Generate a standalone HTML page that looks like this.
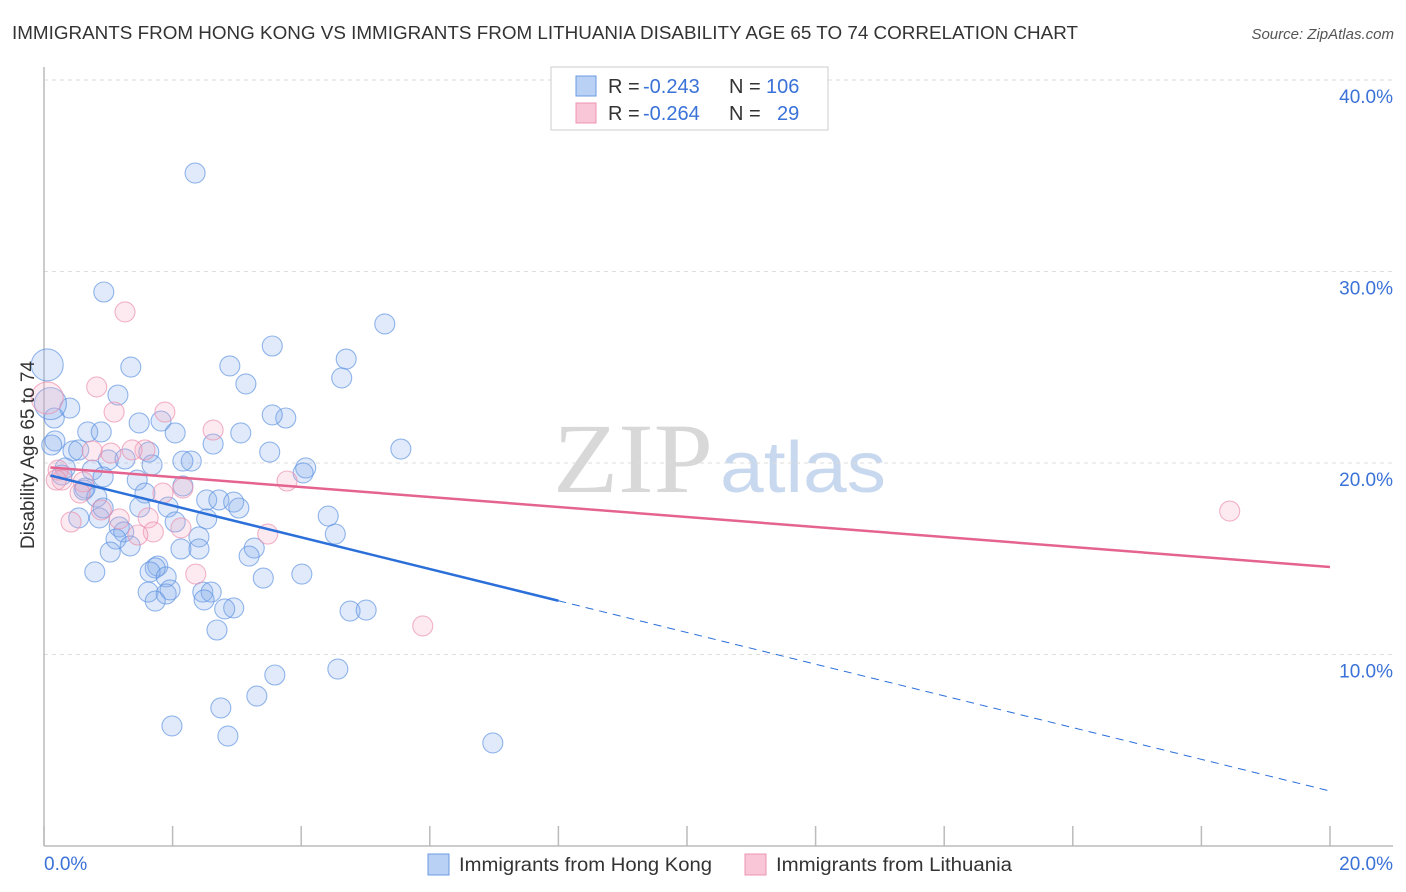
<!DOCTYPE html>
<html><head><meta charset="utf-8"><style>
body{margin:0;background:#fff;font-family:"Liberation Sans",sans-serif}
svg{display:block}
</style></head><body>
<svg id="chart" width="1406" height="892" viewBox="0 0 1406 892" xmlns="http://www.w3.org/2000/svg">
<text x="12" y="39" font-size="18" fill="#333" textLength="1066" lengthAdjust="spacingAndGlyphs">IMMIGRANTS FROM HONG KONG VS IMMIGRANTS FROM LITHUANIA DISABILITY AGE 65 TO 74 CORRELATION CHART</text>
<text x="1394" y="39" font-size="15" fill="#555" text-anchor="end" font-style="italic">Source: ZipAtlas.com</text>
<g>
<text x="553" y="492" font-size="100" fill="#d8d8d8" font-family="Liberation Serif,serif" textLength="160" lengthAdjust="spacingAndGlyphs">ZIP</text>
<text x="720" y="492" font-size="72" fill="#c8d8ef" textLength="166" lengthAdjust="spacingAndGlyphs">atlas</text>
</g>
<g id="grid"></g>
<g id="axes"></g>
<g id="marks"></g>
<text transform="translate(34,455) rotate(-90)" font-size="19" fill="#333" text-anchor="middle">Disability Age 65 to 74</text>
<g>
<rect x="551" y="67" width="277" height="63" fill="#fff" stroke="#ccc"/>
<rect x="576" y="76" width="20" height="20" fill="#b9d1f5" stroke="#6b9be3"/>
<rect x="576" y="103" width="20" height="20" fill="#f8c6d6" stroke="#ec94b0"/>
<text x="608" y="93" font-size="20" fill="#333">R =</text>
<text x="643" y="93" font-size="20" fill="#3a72d8">-0.243</text>
<text x="729" y="93" font-size="20" fill="#333">N =</text>
<text x="766" y="93" font-size="20" fill="#3a72d8">106</text>
<text x="608" y="120" font-size="20" fill="#333">R =</text>
<text x="643" y="120" font-size="20" fill="#3a72d8">-0.264</text>
<text x="729" y="120" font-size="20" fill="#333">N =</text>
<text x="777" y="120" font-size="20" fill="#3a72d8">29</text>
</g>
<g>
<rect x="428" y="854" width="21" height="21" fill="#b9d1f5" stroke="#6b9be3"/>
<text x="459" y="871" font-size="19" fill="#333" textLength="253" lengthAdjust="spacingAndGlyphs">Immigrants from Hong Kong</text>
<rect x="745" y="854" width="21" height="21" fill="#f8c6d6" stroke="#ec94b0"/>
<text x="776" y="871" font-size="19" fill="#333" textLength="236" lengthAdjust="spacingAndGlyphs">Immigrants from Lithuania</text>
</g>
</svg>
<script>
const hkX=[2.35,0.93,5.30,3.55,4.70,2.89,1.35,4.63,3.14,1.15,0.40,0.16,3.76,3.55,1.48,1.82,2.04,3.06,0.68,0.89,0.17,2.63,5.55,3.51,0.45,0.54,1.63,1.00,2.29,2.16,1.26,1.68,4.07,4.03,0.75,0.33,0.28,0.92,1.45,0.64,0.62,1.57,2.16,0.82,2.53,2.72,2.95,3.03,1.93,1.49,4.42,2.53,0.86,0.54,1.17,2.04,4.53,1.24,2.41,1.12,1.34,3.27,2.13,1.03,2.41,3.19,1.77,1.73,1.65,0.79,1.90,3.41,4.01,1.62,2.47,1.90,2.60,1.96,2.49,1.73,2.95,2.81,4.76,5.01,2.69,3.59,4.57,3.31,2.75,1.99,2.86,6.98,0.12,0.92,0.05,0.10];
const hkY=[35.14,28.93,27.26,26.11,25.43,25.07,25.01,24.44,24.13,23.55,22.87,22.35,22.35,22.51,22.09,22.19,21.57,21.57,21.62,21.62,21.15,20.99,20.73,20.57,20.63,20.68,20.57,20.16,20.10,20.10,20.21,19.90,19.74,19.48,19.63,19.74,19.37,19.27,19.11,18.69,18.59,18.43,18.80,18.22,18.07,18.07,17.96,17.65,17.70,17.70,17.23,17.08,17.13,17.13,16.66,16.92,16.29,16.40,16.14,16.03,15.67,15.56,15.51,15.35,15.51,15.14,14.62,14.52,14.31,14.31,14.05,13.99,14.20,13.26,13.26,13.16,13.26,13.37,12.85,12.79,12.43,12.38,12.27,12.32,11.28,8.93,9.24,7.83,7.21,6.27,5.74,5.38,20.94,17.65,25.12,23.10];
const hkSize=hkX.map((v,i)=>i>=94?1.6:1);
const ltX=[1.26,0.82,1.09,1.88,2.63,0.75,1.04,1.57,1.37,0.22,0.28,0.61,2.16,3.78,1.85,0.56,0.89,0.42,1.17,1.62,1.70,2.13,3.48,1.46,2.36,5.89,18.44,0.19,0.05];
const ltY=[27.89,23.97,22.66,22.66,21.72,20.63,20.52,20.68,20.68,19.63,19.11,19.01,18.69,19.06,18.43,18.43,17.55,16.92,17.08,17.13,16.40,16.61,16.29,16.24,14.20,11.49,17.49,19.11,23.40];
const ltSize=ltX.map((v,i)=>i===28?1.6:1);
const hkTrend=[19.43,2.87];
const ltTrend=[19.79,14.57];
const yTicks=[10,20,30,40];
const yTickLabels=["10.0%","20.0%","30.0%","40.0%"];
const xTicks=[0,2,4,6,8,10,12,14,16,18,20];
const xLabels=[[0,"0.0%"],[20,"20.0%"]];

const NS="http://www.w3.org/2000/svg";
const X=v=>44+v*64.3, Y=v=>846-v*19.15;
function mk(tag,attrs,parent){const e=document.createElementNS(NS,tag);for(const k in attrs)e.setAttribute(k,attrs[k]);parent.appendChild(e);return e;}
const grid=document.getElementById('grid'),axes=document.getElementById('axes'),marks=document.getElementById('marks');
yTicks.forEach((t,i)=>{
 const l=mk('line',{x1:44,x2:1393,y1:Y(t),y2:Y(t),stroke:'#ddd','stroke-dasharray':'4,4'},grid);
 
 
 const tx=mk('text',{x:1393,y:Y(t)+23,'font-size':19,fill:'#3a72d8','text-anchor':'end'},axes);
 tx.textContent=yTickLabels[i];
 
 
});
const ax=mk('line',{x1:44,x2:44,y1:67,y2:846,stroke:'#bbb','stroke-width':1.5},axes);


const bx=mk('line',{x1:44,x2:1393,y1:846,y2:846,stroke:'#bbb','stroke-width':1.5},axes);


xTicks.forEach(t=>{
 const l=mk('line',{x1:X(t),x2:X(t),y1:826,y2:846,stroke:'#bbb','stroke-width':1.5},axes);
 
 
});
xLabels.forEach(([v,s])=>{
 const tx=mk('text',{x:v===0?X(v):1393,y:870,'font-size':19,fill:'#3a72d8','text-anchor':v===0?'start':'end'},axes);
 tx.textContent=s;
 
 
});
hkX.forEach((x,i)=>{
 const c=mk('circle',{cx:X(x),cy:Y(hkY[i]),r:10*hkSize[i],fill:'rgba(130,170,235,0.25)',stroke:'rgba(90,145,225,0.65)','stroke-width':1.1},marks);
 
 
});
ltX.forEach((x,i)=>{
 const c=mk('circle',{cx:X(x),cy:Y(ltY[i]),r:10*ltSize[i],fill:'rgba(245,170,195,0.25)',stroke:'rgba(235,140,170,0.65)','stroke-width':1.1},marks);
 
 
});
const hkAt=x=>hkTrend[0]+(hkTrend[1]-hkTrend[0])*x/20;
const ltAt=x=>ltTrend[0]+(ltTrend[1]-ltTrend[0])*x/20;
const t1=mk('line',{x1:X(0.1),y1:Y(hkAt(0.1)),x2:X(8),y2:Y(hkAt(8)),stroke:'#2b6fd9','stroke-width':2.5},marks);


const t2=mk('line',{x1:X(8),y1:Y(hkAt(8)),x2:X(20),y2:Y(hkAt(20)),stroke:'#2b6fd9','stroke-width':1,'stroke-dasharray':'8,6'},marks);


const t3=mk('line',{x1:X(0.1),y1:Y(ltAt(0.1)),x2:X(20),y2:Y(ltAt(20)),stroke:'#e5648f','stroke-width':2.5},marks);


</script>
</body></html>
